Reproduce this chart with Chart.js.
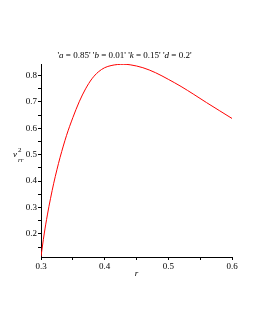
<!DOCTYPE html>
<html><head><meta charset="utf-8">
<script src="https://cdn.jsdelivr.net/npm/chart.js@4"></script>
<style>html,body{margin:0;padding:0;background:#fff}#wrap{width:255px;height:330px}</style>
</head><body><div id="wrap"><canvas id="c" width="255" height="330"></canvas></div>
<script>
const rValues = [0.300,0.305,0.310,0.315,0.320,0.325,0.330,0.340,0.350,0.360,0.370,0.380,0.390,0.400,0.410,0.420,0.430,0.440,0.460,0.480,0.500,0.520,0.540,0.560,0.580,0.600];
const vValues = [0.115,0.200,0.272,0.335,0.392,0.443,0.490,0.572,0.640,0.700,0.749,0.787,0.813,0.829,0.837,0.841,0.842,0.840,0.829,0.810,0.785,0.758,0.728,0.697,0.667,0.637];
const xTickLabels = [0.3,0.4,0.5,0.6];
const yTickLabels = [0.2,0.3,0.4,0.5,0.6,0.7,0.8];
const titleParts = [["'",false],["a",true],[" = 0.85' '",false],["b",true],[" = 0.01' '",false],["k",true],[" = 0.15' '",false],["d",true],[" = 0.2'",false]];

const near = (v, arr) => arr.some(a => Math.abs(a - v) < 1e-6);

const textPlugin = {
  id: 'texts',
  afterDraw(chart) {
    const ctx = chart.ctx, ca = chart.chartArea;
    ctx.save();
    ctx.fillStyle = '#000';
    ctx.textBaseline = 'alphabetic';
    let total = 0;
    titleParts.forEach(([t, it]) => { ctx.font = (it ? 'italic ' : '') + '9px "Liberation Serif"'; total += ctx.measureText(t).width; });
    let x = 124.5 - total / 2;
    titleParts.forEach(([t, it]) => { ctx.font = (it ? 'italic ' : '') + '9px "Liberation Serif"'; ctx.fillText(t, x, 58); x += ctx.measureText(t).width; });
    ctx.font = 'italic 9px "Liberation Serif"';
    ctx.textAlign = 'center';
    ctx.fillText('r', (ca.left + ca.right) / 2, 276);
    ctx.textAlign = 'left';
    ctx.font = 'italic 9px "Liberation Serif"';
    ctx.fillText('v', 13, 157);
    ctx.font = '7px "Liberation Serif"';
    ctx.fillText('2', 18, 152);
    ctx.font = 'italic 7px "Liberation Serif"';
    ctx.fillText('rr', 18, 162);
    ctx.restore();
  }
};

new Chart(document.getElementById('c'), {
  type: 'scatter',
  data: {
    datasets: [{
      data: rValues.map((r, i) => ({x: r, y: vValues[i]})),
      showLine: true,
      borderColor: '#ff0000',
      borderWidth: 1,
      pointRadius: 0,
      cubicInterpolationMode: 'monotone',
      fill: false
    }]
  },
  options: {
    responsive: false,
    animation: false,
    layout: { padding: { left: 0, right: 23, top: 64, bottom: 53 } },
    plugins: { legend: { display: false }, tooltip: { enabled: false } },
    scales: {
      x: {
        type: 'linear', min: 0.3, max: 0.6,
        afterFit(s) { s.height = 20; },
        grid: { display: true, drawOnChartArea: false, drawTicks: true, tickLength: 3, color: '#000' },
        border: { display: true, color: '#000', width: 1 },
        ticks: {
          stepSize: 0.05, includeBounds: false, autoSkip: false, maxRotation: 0, padding: 1,
          color: '#000', font: { family: 'Liberation Serif', size: 9 },
          callback: v => near(v, xTickLabels) ? (Math.round(v * 10) / 10).toFixed(1) : ''
        }
      },
      y: {
        type: 'linear', min: 0.113, max: 0.843,
        afterFit(s) { s.width = 41; },
        grid: { display: true, drawOnChartArea: false, drawTicks: true, tickLength: 3, color: '#000' },
        border: { display: true, color: '#000', width: 1 },
        ticks: {
          stepSize: 0.05, includeBounds: false, autoSkip: false, padding: 1,
          color: '#000', font: { family: 'Liberation Serif', size: 9 },
          callback: v => near(v, yTickLabels) ? (Math.round(v * 10) / 10).toFixed(1) : ''
        }
      }
    }
  },
  plugins: [textPlugin]
});
</script></body></html>
